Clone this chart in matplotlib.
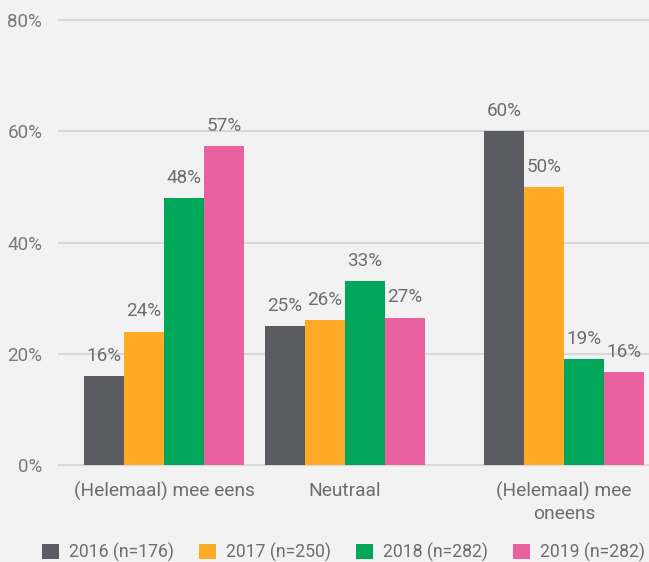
import matplotlib
matplotlib.use("Agg")
import matplotlib.pyplot as plt
import numpy as np

plt.rcParams['font.family'] = ['Roboto', 'DejaVu Sans']

categories = ["(Helemaal) mee eens", "Neutraal", "(Helemaal) mee\noneens"]
series = ["2016 (n=176)", "2017 (n=250)", "2018 (n=282)", "2019 (n=282)"]
v2016 = [16, 25, 60]
v2017 = [24, 26, 50]
v2018 = [48, 33, 19]
v2019 = [57.4, 26.5, 16.7]
lab2016 = ["16%", "25%", "60%"]
lab2017 = ["24%", "26%", "50%"]
lab2018 = ["48%", "33%", "19%"]
lab2019 = ["57%", "27%", "16%"]
yticks = [0, 20, 40, 60, 80]

colors = ["#5a5c61", "#ffab28", "#00a65a", "#e9629f"]
bg = "#f2f2f2"
txt = "#6e6e6e"
fs = 13.6

fig = plt.figure(figsize=(6.49, 5.62), dpi=100, facecolor=bg)
ax = fig.add_axes([59/649, 1 - 465/562, 1 - 59/649, (465 - 20)/562])
ax.set_facecolor(bg)

# group centres are not evenly spaced in the original
centers = np.array([0, 1, 2.21])
w = 0.221
values = [v2016, v2017, v2018, v2019]
labels = [lab2016, lab2017, lab2018, lab2019]
for i, (vals, labs) in enumerate(zip(values, labels)):
    xs = centers + (i - 1.5) * w
    ax.bar(xs, vals, width=w, color=colors[i], label=series[i], zorder=3)
    for x, v, t in zip(xs, vals, labs):
        ax.text(x, v + 2.0, t, ha="center", va="bottom", fontsize=fs, color=txt)

ax.set_xlim(-0.58, 2.68)
ax.set_ylim(0, 80)
ax.set_yticks(yticks)
ax.set_yticklabels([f"{t}%" for t in yticks])
ax.set_xticks(centers)
ax.set_xticklabels(categories, linespacing=1.3)
ax.tick_params(axis="y", length=0, pad=12, labelsize=fs, labelcolor="#7a7a7a")
ax.tick_params(axis="x", length=0, pad=12, labelsize=13.8, labelcolor=txt)
for s in ax.spines.values():
    s.set_visible(False)
ax.yaxis.grid(True, color="#d9d9d9", linewidth=1.5, zorder=0)
for gl in ax.get_ygridlines():
    gl.set_clip_on(False)
ax.set_axisbelow(True)

fig.legend(loc="center left", bbox_to_anchor=(42/649, 1 - 552/562), ncol=4,
           frameon=False, borderpad=0, borderaxespad=0, fontsize=12.7,
           handlelength=0.97, handleheight=0.97, handletextpad=0.57,
           columnspacing=1.4, labelcolor=txt)

fig.savefig("out.png", dpi=100, facecolor=bg)
